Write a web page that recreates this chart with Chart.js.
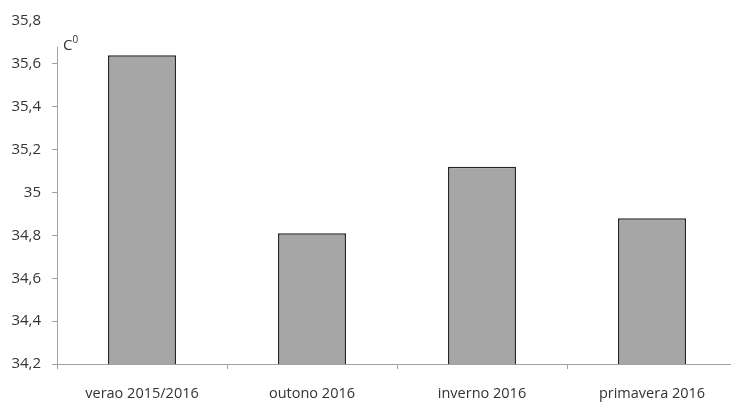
<!DOCTYPE html>
<html lang="pt">
  <head>
    <meta charset="UTF-8" />
    <title>Temperatura por estação</title>
    <script src="https://cdn.jsdelivr.net/npm/chart.js"></script>
    <style>
      html, body { margin: 0; padding: 0; background: #fff; overflow: hidden; width: 731px; height: 403px; }
      .chart-container { width: 745px; height: 403px; position: relative; }
    </style>
  </head>
  <body>
    <div class="chart-container">
      <canvas id="tempChart"></canvas>
    </div>

    <script>
      // dados
      const seasons = ["verao 2015/2016", "outono 2016", "inverno 2016", "primavera 2016"];
      const temps = [35.64, 34.81, 35.12, 34.88];
      const yMin = 34.2;
      const yMax = 35.8;
      const yStep = 0.2;
      const unitLabel = "C";
      const unitSup = "0";

      const axisColor = "#a0a0a0";
      const textColor = "#333333";
      const fontFamily = "'Open Sans', 'Liberation Sans', sans-serif";

      // draws the y axis line (starts a bit above the 35.6 tick like the original) and the C0 label
      const extras = {
        id: "extras",
        afterDraw(chart) {
          const ctx = chart.ctx;
          const y = chart.scales.y;
          const area = chart.chartArea;
          ctx.save();
          ctx.strokeStyle = axisColor;
          ctx.lineWidth = 1;
          ctx.beginPath();
          ctx.moveTo(area.left + 0.5, y.getPixelForValue(35.68));
          ctx.lineTo(area.left + 0.5, area.bottom);
          ctx.stroke();

          ctx.fillStyle = textColor;
          ctx.textBaseline = "alphabetic";
          ctx.font = "15px " + fontFamily;
          const lx = area.left + 6;
          const ly = y.getPixelForValue(35.7) + 8;
          ctx.fillText(unitLabel, lx, ly);
          const w = ctx.measureText(unitLabel).width;
          ctx.font = "10px " + fontFamily;
          ctx.fillText(unitSup, lx + w, ly - 7);
          ctx.restore();
        },
      };

      const ctx = document.getElementById("tempChart").getContext("2d");
      new Chart(ctx, {
        type: "bar",
        data: {
          labels: seasons,
          datasets: [
            {
              data: temps,
              backgroundColor: "#a6a6a6",
              borderColor: "#262626",
              borderWidth: 1.5,
              borderSkipped: "bottom",
              categoryPercentage: 1,
              barPercentage: 0.4,
            },
          ],
        },
        options: {
          responsive: true,
          maintainAspectRatio: false,
          animation: false,
          layout: { padding: { top: 21, right: 8, left: 0, bottom: 0 } },
          plugins: {
            legend: { display: false },
            tooltip: { enabled: false },
          },
          scales: {
            x: {
              grid: {
                offset: true,
                drawOnChartArea: false,
                drawTicks: true,
                tickLength: 5,
                color: axisColor,
              },
              border: { display: true, color: axisColor },
              ticks: {
                color: textColor,
                font: { family: fontFamily, size: 14.5 },
                padding: 16,
                maxRotation: 0,
              },
              afterFit: (s) => { s.height = 39; },
            },
            y: {
              min: yMin,
              max: yMax,
              grid: {
                drawOnChartArea: false,
                drawTicks: true,
                tickLength: 5,
                color: (c) => (c.tick && c.tick.value > 35.7 ? "rgba(0,0,0,0)" : axisColor),
              },
              border: { display: false },
              ticks: {
                stepSize: yStep,
                color: textColor,
                font: { family: fontFamily, size: 15 },
                padding: 11,
                callback: (v) => Number(v.toFixed(1)).toString().replace(".", ","),
              },
              afterFit: (s) => { s.width = 57; },
            },
          },
        },
        plugins: [extras],
      });
    </script>
  </body>
</html>
